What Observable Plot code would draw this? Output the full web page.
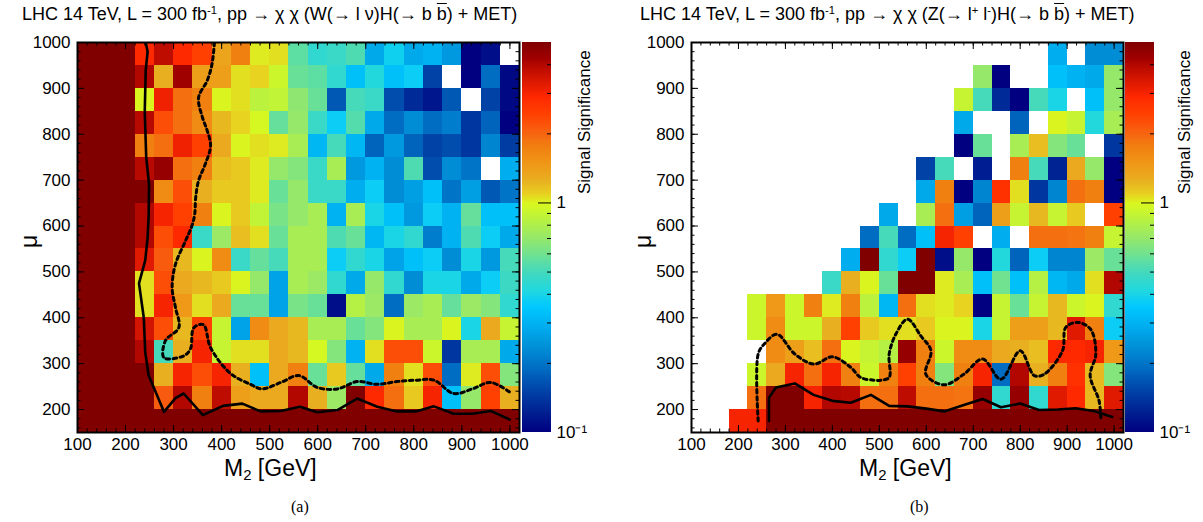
<!DOCTYPE html>
<html><head><meta charset="utf-8">
<script src="https://cdn.jsdelivr.net/npm/d3@7"></script>
<script src="https://cdn.jsdelivr.net/npm/@observablehq/plot@0.6"></script>
<style>
body{margin:0;background:#fff;font-family:"Liberation Sans",Arial,sans-serif;color:#000}
#root{position:relative;width:1203px;height:522px;overflow:hidden;background:#fff}
.abs{position:absolute;white-space:nowrap;line-height:1}
.title{font-size:18px}
.cbt{font-size:17px}
sup{font-size:0.62em;vertical-align:0.55em;line-height:0}
sub{font-size:0.65em;vertical-align:-0.3em;line-height:0}
.ov{text-decoration:overline}
.axt{font-size:23px}
.cap{font-family:"Liberation Serif","DejaVu Serif",serif;font-size:16px}
.rot{transform-origin:0 0;transform:rotate(-90deg)}
</style></head><body><div id="root"></div>
<script>
// ---------- data ----------
const m2Edges = [100,140,180,220,260,300,340,380,420,460,500,540,580,620,660,700,740,780,820,860,900,940,980,1020];
const muEdges = [150,200,250,300,350,400,450,500,550,600,650,700,750,800,850,900,950,1000];
const xTicks = [100,200,300,400,500,600,700,800,900,1000];
const yTicks = [200,300,400,500,600,700,800,900,1000];
const colorTicks = [0.1, 1];
const colorMinor = [0.2,0.3,0.4,0.5,0.6,0.7,0.8,0.9,2,3,4];
const n = null;
// signal significance, rows from mu = 150-200 (first) to 950-1000 (last), columns M2 bins
const sigWH = [
 [5,5,5,5,5,5,5,5,5,5,5,5,5,5,5,5,5,5,5,5,5,5,5],
 [5,5,5,5,2.1,4.0,1.74,3.8,1.4,1.3,1.3,4.0,1.25,0.72,5,2.86,1.9,1.12,3.0,0.33,0.7,2.42,1.25],
 [5,5,5,5,1.25,3.0,2.25,3.0,1.25,0.33,1.3,1.74,0.58,1.12,0.57,0.28,1.74,1.05,2.25,0.19,1.02,2.25,0.65],
 [5,5,5,4.0,0.5,1.25,3.0,0.9,1.05,1.05,1.3,1.2,0.98,0.65,0.3,1.05,2.25,2.25,0.93,0.14,0.77,0.77,0.28],
 [5,5,5,3.5,2.25,1.2,2.42,0.9,0.27,1.6,1.3,1.2,0.77,0.77,0.58,0.65,1.0,0.77,0.77,1.0,0.4,1.3,0.9],
 [5,5,5,1.05,3.0,1.47,1.05,1.3,0.58,0.58,0.27,0.62,0.58,0.11,0.82,0.72,0.19,0.72,0.77,0.57,0.72,0.65,0.45],
 [5,5,5,1.05,2.25,1.3,1.2,1.12,1.0,0.7,0.27,0.77,0.72,0.45,0.28,0.7,0.45,0.23,0.4,0.4,0.28,0.37,0.48],
 [5,5,5,3.3,2.1,1.2,1.0,1.6,0.47,0.57,0.5,0.77,0.77,0.37,0.45,0.4,0.27,0.33,0.37,0.23,0.4,0.25,0.5],
 [5,5,5,4.0,2.25,2.86,0.47,0.72,1.17,1.05,0.58,0.77,0.77,0.52,0.58,0.31,0.4,0.45,0.21,0.3,0.52,0.37,0.28],
 [5,5,5,4.0,3.0,2.42,1.74,1.0,1.12,0.88,0.62,0.7,0.77,0.3,0.77,0.4,0.33,0.25,0.37,0.3,0.57,0.33,0.33],
 [5,5,5,5,1.6,2.25,1.25,1.12,1.12,1.02,0.58,0.7,0.47,0.47,0.29,0.37,0.23,0.26,0.33,0.2,0.26,0.17,0.2],
 [5,5,5,3.9,4.5,1.9,1.74,1.17,1.12,1.02,0.7,0.65,0.47,0.77,0.25,0.3,0.23,0.52,0.16,0.23,0.2,n,0.29],
 [5,5,5,1.74,1.9,3.1,2.42,1.3,1.0,1.05,1.02,0.77,0.31,0.5,0.31,0.18,0.25,0.18,0.15,0.16,0.14,0.22,0.145],
 [5,5,5,3.9,2.25,1.9,1.6,1.2,1.08,0.98,0.57,0.7,0.47,0.37,0.53,0.28,0.19,0.23,0.19,0.21,0.14,0.18,0.1],
 [5,5,5,1.0,3.1,1.9,1.74,1.0,1.05,0.85,0.88,0.68,0.58,0.17,0.5,0.47,0.16,0.13,0.115,0.17,n,0.15,0.105],
 [5,5,5,4.0,1.25,4.3,1.4,1.4,1.05,1.08,0.93,0.58,0.55,0.45,0.33,0.42,0.33,0.37,0.15,n,0.1,0.19,0.105],
 [5,5,5,2.86,3.8,2.86,2.42,1.35,1.74,1.02,1.05,0.55,0.45,0.47,0.52,0.28,0.38,0.28,0.3,0.25,0.1,0.11,n]
];
const sigZH = [
 [n,n,3.0,3.0,5,5,5,5,5,5,5,5,5,5,5,5,5,5,5,5,5,5,5],
 [n,n,n,1.9,5,5,3.0,4.0,3.9,1.9,1.9,3.8,1.9,1.9,1.85,4.5,0.45,4.5,0.45,3.3,2.86,1.2,3.3],
 [n,n,n,0.93,1.3,3.0,1.9,3.0,1.74,0.93,1.74,2.42,1.74,0.65,1.74,3.0,0.19,4.0,1.25,1.74,2.7,1.2,0.65],
 [n,n,n,n,1.6,1.4,1.17,1.9,1.0,0.9,0.82,4.5,1.74,0.93,1.6,1.6,1.3,1.25,1.17,2.86,2.86,3.0,1.47],
 [n,n,n,0.93,1.6,0.93,0.93,1.25,2.42,1.12,1.05,1.05,1.12,1.0,1.0,0.4,0.9,1.4,1.4,1.2,3.3,1.74,0.37],
 [n,n,n,0.93,1.47,0.93,1.74,1.02,1.74,0.85,0.31,1.9,1.05,1.02,1.08,0.1,0.9,0.58,0.9,1.2,0.93,1.0,0.45],
 [n,n,n,n,n,n,n,0.47,1.25,1.0,0.58,5,5,1.02,0.77,0.33,0.6,0.33,0.82,0.31,0.28,1.05,4.0],
 [n,n,n,n,n,n,n,n,0.29,5,0.45,0.37,5,0.11,0.7,0.1,0.42,0.18,0.37,0.22,0.22,0.72,0.58],
 [n,n,n,n,n,n,n,n,n,0.19,0.5,0.19,0.33,3.0,2.42,n,0.29,n,1.9,1.9,1.85,1.74,0.9],
 [n,n,n,n,n,n,n,n,n,n,0.28,n,0.77,1.9,0.26,0.18,1.4,0.9,1.2,0.9,1.12,n,2.42],
 [n,n,n,n,n,n,n,n,n,n,n,n,0.28,1.74,0.1,0.22,2.7,1.05,0.14,0.22,1.9,1.74,0.1],
 [n,n,n,n,n,n,n,n,n,n,n,n,0.15,0.5,n,0.12,n,1.74,0.5,0.125,1.3,0.7,0.1],
 [n,n,n,n,n,n,n,n,n,n,n,n,n,n,0.1,0.58,n,0.77,1.17,0.65,0.58,n,0.14],
 [n,n,n,n,n,n,n,n,n,n,n,n,n,n,0.28,n,n,0.18,n,1.0,0.9,0.42,0.77],
 [n,n,n,n,n,n,n,n,n,n,n,n,n,n,0.9,0.5,0.13,0.1,0.5,0.4,n,0.33,0.7],
 [n,n,n,n,n,n,n,n,n,n,n,n,n,n,n,0.7,0.1,n,n,0.33,0.3,0.28,0.7],
 [n,n,n,n,n,n,n,n,n,n,n,n,n,n,n,n,n,n,n,0.29,n,0.23,0.23]
];
// contours [M2, mu]
const solidWH = [[242,1000],[246,980],[242,940],[240,850],[243,750],[249,690],[248,620],[246,575],[241,525],[228,475],[238,400],[241,325],[248,275],[262,240],[280,195],[304,225],[321,235],[361,188],[403,208],[443,213],[481,196],[523,197],[563,206],[599,194],[641,199],[682,224],[724,206],[765,196],[804,196],[842,207],[883,191],[922,191],[960,197],[1000,178]];
const dashWH = [[385,1000],[380,953],[370,917],[352,880],[360,837],[370,808],[377,775],[366,735],[352,699],[346,662],[344,626],[338,600],[325,568],[304,517],[297,466],[304,422],[311,379],[283,350],[280,313],[321,317],[335,332],[342,378],[362,385],[377,335],[418,279],[460,255],[484,245],[523,259],[561,274],[599,248],[641,245],[682,261],[724,255],[765,261],[804,264],[842,264],[883,235],[922,245],[960,259],[1001,237]];
const solidZH = [[265,175],[265,226],[280,248],[320,257],[360,232],[400,219],[439,215],[482,232],[521,208],[560,207],[600,202],[638,196],[680,210],[720,223],[759,205],[800,213],[840,199],[880,200],[918,203],[957,197],[996,184]];
const dashZH = [[242,175],[242,321],[255,343],[282,364],[320,321],[361,299],[400,315],[439,292],[460,270],[489,264],[503,264],[521,270],[521,321],[535,364],[560,397],[588,361],[610,328],[599,277],[638,254],[680,277],[720,310],[759,266],[800,328],[830,274],[851,277],[890,328],[897,379],[922,390],[950,375],[961,321],[949,274],[968,219],[972,175]];

// ---------- palette ----------
const stops = [[0,"#000080"],[0.09,"#0038a0"],[0.158,"#0068c0"],[0.218,"#0090d8"],[0.277,"#00b0f0"],[0.32,"#00c8ff"],[0.363,"#20d8e0"],[0.405,"#40d8c0"],[0.448,"#68e098"],[0.5,"#98e868"],[0.533,"#b0f048"],[0.586,"#d8f820"],[0.61,"#e8d020"],[0.644,"#e8b020"],[0.687,"#f09818"],[0.73,"#f08010"],[0.772,"#f86010"],[0.815,"#ff4000"],[0.86,"#ff2800"],[0.92,"#c81000"],[0.96,"#a00000"],[1,"#800000"]];
function jet(t){
  t = Math.max(0, Math.min(1, t));
  for (let i = 1; i < stops.length; i++) {
    if (t <= stops[i][0]) {
      const [t0,c0] = stops[i-1], [t1,c1] = stops[i];
      return d3.interpolateRgb(c0, c1)((t - t0) / (t1 - t0));
    }
  }
  return stops[stops.length-1][1];
}
const colorScale = {type: "log", domain: [0.1, 5], interpolate: jet, clamp: true};

function cells(grid){
  const out = [];
  grid.forEach((row, r) => row.forEach((v, c) => {
    if (v != null) out.push({x1: m2Edges[c], x2: m2Edges[c+1], y1: muEdges[r], y2: muEdges[r+1], v});
  }));
  return out;
}

const root = document.getElementById("root");
const H = 455, MT = 42, MB = 23;
const IH = H - MT - MB;
const xMinor = d3.range(100, 1021, 20);
const yMinor = d3.range(160, 1001, 20);
const fmt = d => String(d);

function panel(grid, solid, dash, left, ml, iw){
  const W = ml + iw + 2;
  const svg = Plot.plot({
    width: W, height: H, marginLeft: ml, marginRight: 2, marginTop: MT, marginBottom: MB,
    x: {domain: [100, 1020]},
    y: {domain: [150, 1000]},
    color: colorScale,
    style: {fontSize: "17px", fontFamily: "Liberation Sans, Arial, sans-serif", background: "transparent", overflow: "visible", color: "black"},
    marks: [
      Plot.rect(cells(grid), {x1: "x1", x2: "x2", y1: "y1", y2: "y2", fill: "v", shapeRendering: "crispEdges"}),
      Plot.line(solid, {stroke: "black", strokeWidth: 2.6, clip: true}),
      Plot.line(dash, {stroke: "black", strokeWidth: 3, strokeDasharray: "3.5,3.5", curve: "catmull-rom", clip: true}),
      Plot.tickX(xTicks, {x: d => d, insetTop: IH - 7, stroke: "black"}),
      Plot.tickX(xTicks, {x: d => d, insetBottom: IH - 7, stroke: "black"}),
      Plot.tickX(xMinor, {x: d => d, insetTop: IH - 3.5, stroke: "black"}),
      Plot.tickX(xMinor, {x: d => d, insetBottom: IH - 3.5, stroke: "black"}),
      Plot.tickY(yTicks, {y: d => d, insetRight: iw - 7, stroke: "black"}),
      Plot.tickY(yTicks, {y: d => d, insetLeft: iw - 7, stroke: "black"}),
      Plot.tickY(yMinor, {y: d => d, insetRight: iw - 3.5, stroke: "black"}),
      Plot.tickY(yMinor, {y: d => d, insetLeft: iw - 3.5, stroke: "black"}),
      Plot.axisX(xTicks, {anchor: "bottom", tickSize: 0, tickPadding: 5, label: null, tickFormat: fmt}),
      Plot.axisY(yTicks, {anchor: "left", tickSize: 0, tickPadding: 7, label: null, tickFormat: fmt}),
      Plot.frame({stroke: "black", strokeWidth: 2})
    ]
  });
  svg.style.position = "absolute"; svg.style.left = left + "px"; svg.style.top = "0px";
  root.appendChild(svg);
}

function colorbar(left){
  const bw = 29;
  const bands = d3.range(0, 400).map(i => [0.1 * Math.pow(50, i / 400), 0.1 * Math.pow(50, (i + 1) / 400)]);
  const svg = Plot.plot({
    width: bw + 45, height: H, marginLeft: 0, marginRight: 45, marginTop: MT, marginBottom: MB,
    x: {domain: [0, 1], axis: null},
    y: {type: "log", domain: [0.1, 5]},
    color: colorScale,
    style: {fontSize: "17px", fontFamily: "Liberation Sans, Arial, sans-serif", background: "transparent", overflow: "visible", color: "black"},
    marks: [
      Plot.rect(bands, {x1: 0, x2: 1, y1: d => d[0], y2: d => d[1], fill: d => Math.sqrt(d[0] * d[1]), shapeRendering: "crispEdges"}),
      Plot.tickY(colorMinor, {y: d => d, insetLeft: bw - 4, stroke: "black"}),
      Plot.tickY([1], {y: d => d, insetLeft: bw - 13, stroke: "black"}),
      Plot.axisY(colorTicks, {anchor: "right", tickSize: 0, tickPadding: 5, label: null, tickFormat: d => d === 1 ? "1" : "10\u207B\u00B9"})
    ]
  });
  svg.style.position = "absolute"; svg.style.left = left + "px"; svg.style.top = "0px";
  root.appendChild(svg);
}

panel(sigWH, solidWH, dashWH, 0, 77, 442);
colorbar(522);
panel(sigZH, solidZH, dashZH, 613, 78, 432);
colorbar(1125);

root.insertAdjacentHTML("beforeend", `
<div class="abs title" style="left:22px;top:5px">LHC 14 TeV, L = 300 fb<sup>-1</sup>, pp → χ χ (W(→ l ν)H(→ b <span class="ov">b</span>) + MET)</div>
<div class="abs title" style="left:640px;top:5px">LHC 14 TeV, L = 300 fb<sup>-1</sup>, pp → χ χ (Z(→ l<sup>+</sup> l<sup>-</sup>)H(→ b <span class="ov">b</span>) + MET)</div>
<div class="abs axt rot" style="left:18px;top:248px">μ</div>
<div class="abs axt rot" style="left:632px;top:248px">μ</div>
<div class="abs axt" style="left:224px;top:457px">M<sub>2</sub> [GeV]</div>
<div class="abs axt" style="left:859px;top:457px">M<sub>2</sub> [GeV]</div>
<div class="abs cbt rot" style="left:576px;top:194px">Signal Significance</div>
<div class="abs cbt rot" style="left:1176px;top:194px">Signal Significance</div>
<div class="abs cap" style="left:291px;top:499px">(a)</div>
<div class="abs cap" style="left:910px;top:499px">(b)</div>
`);
</script>
</body></html>
